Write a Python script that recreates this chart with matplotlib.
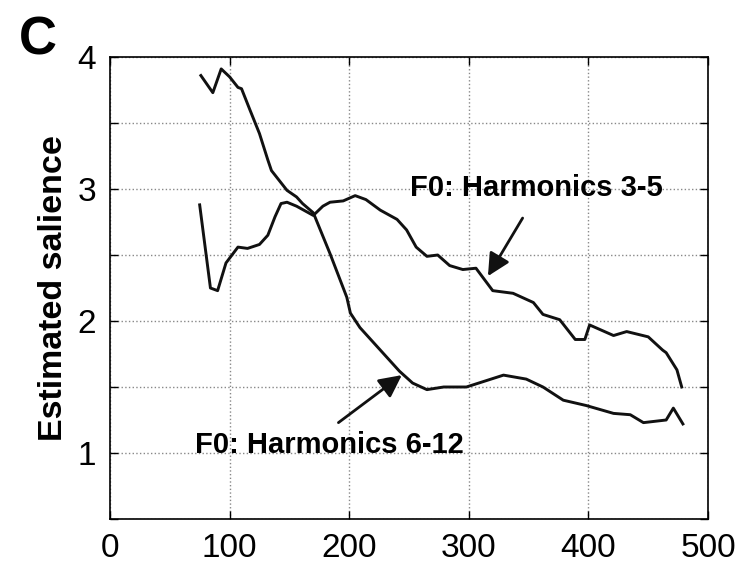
import matplotlib.pyplot as plt
from matplotlib.ticker import MultipleLocator

plt.rcParams['font.family'] = ['Liberation Sans', 'DejaVu Sans']

# F0 estimated from harmonics 6-12 (starts high, drops)
h612_x = [76, 86, 93, 100, 107, 110, 117, 125, 132, 135, 148, 156, 161, 170,
          184, 198, 201, 209, 226, 242, 253, 265, 279, 298, 329, 348, 362, 379,
          398, 421, 435, 446, 465, 471, 479]
h612_y = [3.86, 3.73, 3.91, 3.85, 3.77, 3.76, 3.60, 3.42, 3.22, 3.14, 2.99, 2.94,
          2.89, 2.82, 2.51, 2.18, 2.06, 1.95, 1.78, 1.62, 1.53, 1.48, 1.50, 1.50,
          1.59, 1.56, 1.50, 1.40, 1.36, 1.30, 1.29, 1.23, 1.25, 1.34, 1.22]

# F0 estimated from harmonics 3-5
h35_x = [75, 84, 90, 97, 107, 115, 125, 132, 138, 143, 148, 156, 170, 178, 184,
         195, 205, 214, 226, 240, 248, 256, 265, 274, 284, 295, 306, 320, 337,
         354, 362, 376, 389, 397, 401, 421, 432, 450, 462, 465, 474, 478]
h35_y = [2.88, 2.25, 2.23, 2.44, 2.56, 2.55, 2.58, 2.65, 2.79, 2.89, 2.90, 2.87,
         2.80, 2.87, 2.90, 2.91, 2.95, 2.92, 2.84, 2.77, 2.69, 2.56, 2.49, 2.50,
         2.42, 2.39, 2.40, 2.23, 2.21, 2.14, 2.05, 2.01, 1.86, 1.86, 1.97, 1.89,
         1.92, 1.88, 1.78, 1.76, 1.63, 1.50]

fig = plt.figure(figsize=(7.41, 5.71), dpi=100)
ax = fig.add_axes([0.1484, 0.0911, 0.8071, 0.809])

ax.plot(h612_x, h612_y, color='#111111', lw=2.1)
ax.plot(h35_x, h35_y, color='#111111', lw=2.1)

ax.set_xlim(0, 500)
ax.set_ylim(0.5, 4)
ax.xaxis.set_major_locator(MultipleLocator(100))
ax.yaxis.set_major_locator(MultipleLocator(1))
ax.yaxis.set_minor_locator(MultipleLocator(0.5))
ax.tick_params(which='both', direction='in', top=True, right=True,
               labelsize=24, length=6, width=1, pad=10)
ax.grid(True, which='both', linestyle=':', color='#888888', lw=1)
for s in ax.spines.values():
    s.set_linewidth(1.2)

ax.set_ylabel('Estimated salience', fontsize=24.5, fontweight='bold', labelpad=6)

arrow = dict(arrowstyle='-|>', color='#111111', lw=2, mutation_scale=34,
             shrinkA=0, shrinkB=0)

ax.text(251, 3.01, 'F0: Harmonics 3-5', fontsize=21, fontweight='bold',
        ha='left', va='center')
ax.annotate('', xy=(316, 2.34), xytext=(345, 2.78), arrowprops=arrow)

ax.text(71, 1.06, 'F0: Harmonics 6-12', fontsize=21, fontweight='bold',
        ha='left', va='center')
ax.annotate('', xy=(244, 1.59), xytext=(191, 1.23), arrowprops=arrow)

fig.text(0.026, 0.905, 'C', fontsize=38, fontweight='bold')

fig.savefig('out.png', dpi=100)
